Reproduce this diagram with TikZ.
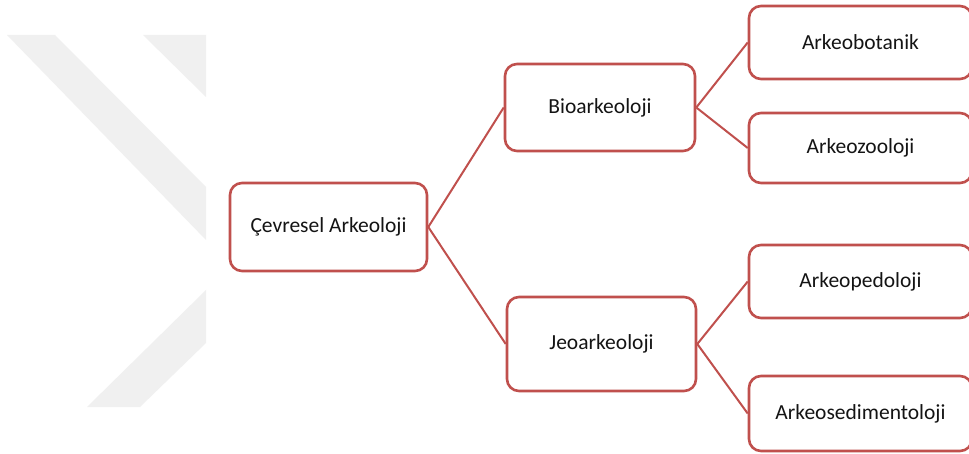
\documentclass[tikz,border=0pt]{standalone}
\usepackage{fontspec}
\setmainfont{Carlito}
\definecolor{boxred}{HTML}{C0504D}
\definecolor{wmgray}{HTML}{F0F0F0}
\tikzset{
  box/.style={draw=boxred, line width=2.6pt, rounded corners=12pt, fill=white,
    inner sep=0pt, font=\fontsize{21.5}{25}\selectfont, text=black!92},
  link/.style={draw=boxred, line width=2pt},
}
\begin{document}
\begin{tikzpicture}[x=1pt,y=-1pt]
\useasboundingbox (0,0) rectangle (969,454);
\fill[white] (0,0) rectangle (969,454);
% watermark
\fill[wmgray] (7,35) -- (55,35) -- (206,187) -- (206,240) -- cycle;
\fill[wmgray] (143,35) -- (206,35) -- (206,97) -- cycle;
\fill[wmgray] (87,407) -- (140,407) -- (206,343) -- (206,290) -- cycle;
% nodes
\node[box, minimum width=197pt, minimum height=88pt] (cev) at (328.5,227) {Çevresel Arkeoloji};
\node[box, minimum width=190pt, minimum height=87pt] (bio) at (600,107.5) {Bioarkeoloji};
\node[box, minimum width=189pt, minimum height=94pt] (jeo) at (601.5,344) {Jeoarkeoloji};
\node[box, minimum width=223pt, minimum height=73pt] (bot) at (860.5,42.5) {Arkeobotanik};
\node[box, minimum width=223pt, minimum height=70pt] (zoo) at (860.5,148) {Arkeozooloji};
\node[box, minimum width=223pt, minimum height=73pt] (ped) at (860.5,281.5) {Arkeopedoloji};
\node[box, minimum width=223pt, minimum height=75pt] (sed) at (860.5,413.5) {Arkeosedimentoloji};
% connectors
\draw[link] (cev.east) -- (bio.west);
\draw[link] (cev.east) -- (jeo.west);
\draw[link] (bio.east) -- (bot.west);
\draw[link] (bio.east) -- (zoo.west);
\draw[link] (jeo.east) -- (ped.west);
\draw[link] (jeo.east) -- (sed.west);
\end{tikzpicture}
\end{document}
